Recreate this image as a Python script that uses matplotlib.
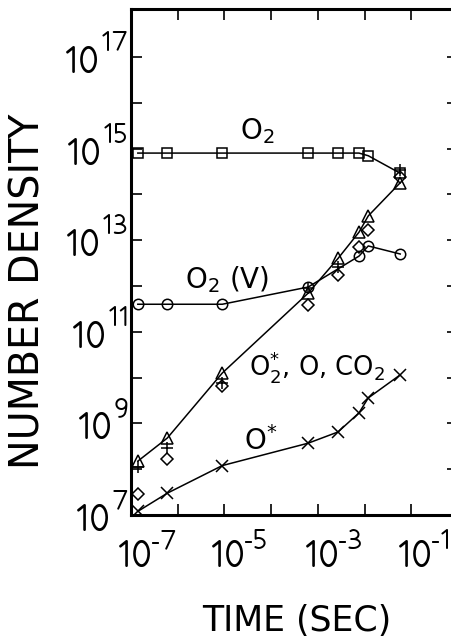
import matplotlib.pyplot as plt
import matplotlib.transforms as mtransforms
from matplotlib import font_manager
from matplotlib.font_manager import FontProperties
from matplotlib.textpath import TextPath

# время (с) и плотности
time_s = [1.4e-7, 6.0e-7, 9.0e-6, 6.2e-4, 2.7e-3, 7.6e-3, 1.2e-2, 5.8e-2]

o2 = [8e14, 8e14, 8e14, 8e14, 8e14, 8e14, 7e14, 2.9e14]
o2v_time = [1.4e-7, 6.0e-7, 9.0e-6, 6.2e-4, 7.6e-3, 1.2e-2, 5.8e-2]
o2v = [4e11, 4e11, 4e11, 9.5e11, 4.5e12, 7.5e12, 5e12]
o2_star = [1.5e8, 4.8e8, 1.26e10, 7e11, 4e12, 1.5e13, 3.4e13, 1.8e14]
o_atom = [2.9e7, 1.7e8, 6.6e9, 3.9e11, 1.7e12, 7e12, 1.7e13, 2.4e14]
co2_time = [1.4e-7, 6.0e-7, 9.0e-6, 6.2e-4, 2.7e-3, 5.8e-2]
co2 = [1.1e8, 2.9e8, 7.6e9, 9.1e11, 2.6e12, 3.4e14]
o_star = [1.2e7, 3e7, 1.2e8, 3.7e8, 6.5e8, 1.7e9, 3.6e9, 1.15e10]

x_ticks = [1e-7, 1e-6, 1e-5, 1e-4, 1e-3, 1e-2, 1e-1]
x_labels = ['-7', '-5', '-3', '-1']
y_ticks = [10.0 ** k for k in range(7, 18)]
y_labels = ['7', '9', '11', '13', '15', '17']

PX = 100 / 72  # пикселей в пункте при dpi=100
FAMILIES = ('DejaVu Sans', 'Liberation Sans', 'Noto Sans', 'Roboto', 'Open Sans', 'Lato', 'Inter')


def pick_digit_font(target=1.2):
    """Шрифт, у которого '10' по пропорциям ближе всего к исходной надписи"""
    best = None
    for f in font_manager.fontManager.ttflist:
        if f.style != 'normal' or f.weight not in (400, 'normal', 'regular'):
            continue
        if not f.name.startswith(FAMILIES) or any(s in f.name for s in ('Mono', 'Serif', 'CJK', 'Display')):
            continue
        try:
            ext = TextPath((0, 0), '10', size=1, prop=FontProperties(fname=f.fname)).get_extents()
        except Exception:
            continue
        if ext.height <= 0:
            continue
        score = abs(ext.width / ext.height - target)
        if best is None or score < best[0]:
            best = (score, f.fname, ext.width, ext.height)
    return best[1], best[2], best[3]


digit_file, w1, h1 = pick_digit_font()
DIGIT = min(28 / (h1 * PX), 32 / (w1 * PX))
SUP = DIGIT * 0.75
digit_font = lambda size: FontProperties(fname=digit_file, size=size)


def ink(text, size):
    """Левая и правая граница чернил текста в пикселях от точки привязки"""
    ext = TextPath((0, 0), text, size=size, prop=digit_font(size)).get_extents()
    return ext.x0 * PX, ext.x1 * PX


plt.rcParams['font.family'] = ['DejaVu Sans']
plt.rcParams['mathtext.fontset'] = 'dejavusans'

fig = plt.figure(figsize=(4.52, 6.39), dpi=100)
ax = fig.add_axes([131 / 452, 124 / 639, 327 / 452, 506 / 639])
ax.set_xscale('log')
ax.set_yscale('log')
ax.set_xlim(1e-7, 1e0)
ax.set_ylim(1e7, 1.12e18)

line_kw = dict(color='black', lw=1.1)
mk = dict(mfc='none', mec='black', mew=1.1, ls='none')

ax.plot(time_s, o2, **line_kw)
ax.plot(time_s, o2, marker='s', ms=7, **mk)
ax.plot(o2v_time, o2v, **line_kw)
ax.plot(o2v_time, o2v, marker='o', ms=7.5, **mk)
ax.plot(time_s, o2_star, **line_kw)
ax.plot(time_s, o2_star, marker='^', ms=9, **mk)
ax.plot(time_s, o_atom, marker='D', ms=6.5, **mk)
ax.plot(co2_time, co2, marker='+', ms=8, **mk)
ax.plot(time_s, o_star, **line_kw)
ax.plot(time_s, o_star, marker='x', ms=8, **mk)

for s in ax.spines.values():
    s.set_linewidth(2.2)
ax.set_xticks(x_ticks)
ax.set_yticks(y_ticks)
ax.minorticks_off()
ax.tick_params(which='both', direction='in', length=8, width=1.2,
               top=True, right=True, labelleft=False, labelbottom=False)


def power_label(xv, yv, base_trans, dx, dy, exp, sup_rise, gap=2):
    """Пишет 10 и показатель степени; dx - левый край чернил '10' в пикселях"""
    b0, b1 = ink('10', DIGIT)
    s0, s1 = ink(exp, SUP)
    tr = mtransforms.offset_copy(base_trans, fig=fig, x=dx - b0, y=dy, units='dots')
    ax.text(xv, yv, '10', transform=tr, ha='left', va='baseline', fontproperties=digit_font(DIGIT))
    sx = dx + (b1 - b0) + gap - s0
    tr2 = mtransforms.offset_copy(base_trans, fig=fig, x=sx, y=dy + sup_rise, units='dots')
    ax.text(xv, yv, exp, transform=tr2, ha='left', va='baseline', fontproperties=digit_font(SUP))


for lab, xv in zip(x_labels, [1e-7, 1e-5, 1e-3, 1e-1]):
    power_label(xv, 0, ax.get_xaxis_transform(), -12, -52, lab, 18, gap=1)
Y_GAP = 4
for lab in y_labels:
    b0, b1 = ink('10', DIGIT)
    s0, s1 = ink(lab, SUP)
    total = (b1 - b0) + Y_GAP + (s1 - s0)
    power_label(0, 10.0 ** int(lab), ax.get_yaxis_transform(), -4 - total, -16, lab, 22, gap=Y_GAP)

# подписи кривых
ax.text(2.2e-5, 1.6e15, r'O$_2$', fontsize=20)
ax.text(1.4e-6, 9e11, r'O$_2$ (V)', fontsize=20)
ax.text(3.4e-5, 1.1e10, r'O$_2^{*}$, O, CO$_2$', fontsize=18.5)
ax.text(2.6e-5, 2.6e8, r'O$^{*}$', fontsize=20)

fig.text(29 / 452, 1 - 291 / 639, 'NUMBER DENSITY', rotation=90, ha='center', va='center', fontsize=28.5)
fig.text(297 / 452, 1 - 621 / 639, 'TIME (SEC)', ha='center', va='center', fontsize=25)

fig.savefig('out.png', dpi=100)
